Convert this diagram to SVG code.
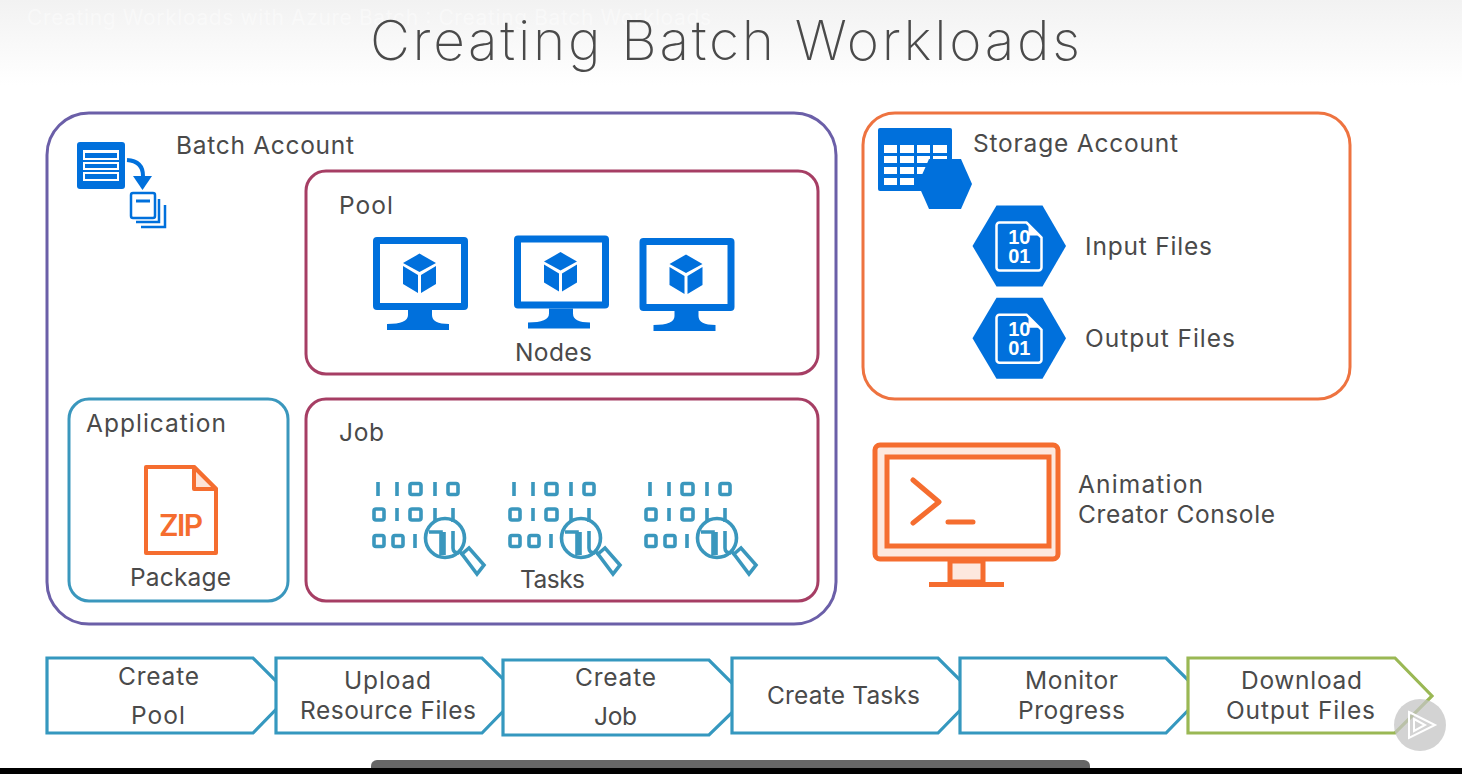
<svg xmlns="http://www.w3.org/2000/svg" xmlns:xlink="http://www.w3.org/1999/xlink" width="1462" height="774" viewBox="0 0 1462 774">
<style>
text{font-family:"Inter","Open Sans","Liberation Sans",sans-serif;fill:#4a4a4a;font-size:24.5px}
.box{fill:#fff;stroke-width:3}
.step{fill:#fff;stroke:#3598bf;stroke-width:3.2;stroke-linejoin:miter}
.az{fill:#0070dc}
.bin{fill:none;stroke:#3a97bd;stroke-width:3.6}
.or{stroke:#f56d2f;stroke-width:5}
.bit{font-family:"Liberation Sans",sans-serif;font-weight:700;font-size:20px;fill:#fff;text-anchor:middle}
</style>
<defs>
<linearGradient id="fade" x1="0" y1="0" x2="0" y2="1"><stop offset="0" stop-color="#f2f2f2"/><stop offset="1" stop-color="#fff"/></linearGradient>
<g id="vm">
<path class="az" fill-rule="evenodd" d="M4 0H91a4 4 0 0 1 4 4V69a4 4 0 0 1-4 4H4a4 4 0 0 1-4-4V4a4 4 0 0 1 4-4ZM7 7V66H88V7Z"/>
<path class="az" d="M35 73H59V78Q59 87 76 87V93H14V87Q35 87 35 78Z"/>
<path class="az" d="M46.5 16.6 63 26 46.5 35 30 26ZM30 29 45 38V56L30 47ZM48 38 63 29V47L48 56Z"/>
</g>
<g id="hexdoc">
<path class="az" d="M24 0H70L93.500 40.500 70 81H24L0 40.500Z"/>
<path d="M27 17H54L69 32V62a3 3 0 0 1-3 3H27a3 3 0 0 1-3-3V20a3 3 0 0 1 3-3Z" fill="none" stroke="#fff" stroke-width="2.500"/>
<path d="M56 19V30H67Z" fill="#fff"/>
<text class="bit" x="46.800" y="38">10</text>
<text class="bit" x="46.800" y="57">01</text>
</g>
<g id="task">
<path class="bin" d="M378 482V496M397 482V496M435 482V496M397 508V521M435 508V522M453 508V522M415 534V548"/>
<rect class="bin" x="410" y="483.500" width="11" height="11" rx="2"/>
<rect class="bin" x="448" y="483.500" width="10" height="11" rx="2"/>
<rect class="bin" x="374" y="509" width="10" height="11" rx="2"/>
<rect class="bin" x="410" y="509" width="11" height="11" rx="2"/>
<rect class="bin" x="374" y="535.500" width="10" height="11" rx="2"/>
<rect class="bin" x="393" y="535.500" width="10" height="11" rx="2"/>
<circle class="bin" cx="445" cy="538" r="19.500"/>
<path class="bin" d="M429 532H441V555M444 532V555M453 531V548Q453 553 459 553"/>
<path class="bin" d="M459 551 463 555"/>
<path class="bin" d="M462 554 469 548 484 565 477 574Z"/>
</g>
</defs>
<rect width="1462" height="774" fill="#fff"/>
<rect width="1462" height="85" fill="url(#fade)"/>
<text x="27" y="25" textLength="684" style="fill:#fff;font-size:21px;opacity:.4">Creating Workloads with Azure Batch : Creating Batch Workloads</text>
<text id="title" x="370" y="60" textLength="710" style="font-size:55px;font-weight:200">Creating Batch Workloads</text>

<g id="batch-account">
<rect class="box" x="47" y="113" width="789" height="511" rx="42" stroke="#6b5fa8"/>
<text x="176" y="154" textLength="178">Batch Account</text>
<rect class="az" x="77" y="142" width="48" height="47" rx="3"/>
<path fill="#fff" d="M83 150H119V160H83ZM83 162H119V170H83ZM83 172H119V181H83Z"/>
<path class="az" d="M85 153H117V158H85ZM85 164H117V168H85ZM85 174H117V179H85Z"/>
<path d="M127 160Q143 161 143 176" fill="none" stroke="#0070dc" stroke-width="4"/>
<path class="az" d="M133 176H152L142.500 190Z"/>
<rect x="131" y="193" width="24" height="25" rx="2" fill="#fff" stroke="#0070dc" stroke-width="2.500"/>
<path d="M136 201H150" stroke="#0070dc" stroke-width="3"/>
<path d="M159 199V222H136M165 205V227H141" fill="none" stroke="#0070dc" stroke-width="2.500"/>
</g>
<g id="pool">
<rect class="box" x="306" y="171" width="512" height="203" rx="20" stroke="#a63e64"/>
<text x="339" y="214" textLength="54">Pool</text>
<use href="#vm" x="373" y="237"/>
<use href="#vm" x="514" y="235.500"/>
<use href="#vm" x="639.500" y="238"/>
<text x="515" y="361" textLength="77">Nodes</text>
</g>
<g id="application">
<rect class="box" x="69" y="399" width="219" height="202" rx="20" stroke="#3a97bd"/>
<text x="86" y="432" textLength="140">Application</text>
<path d="M146 467H194L216 489V553H146Z" fill="#fff" stroke="#f56d2f" stroke-width="4" stroke-linejoin="round"/>
<path d="M194 467V489H216Z" fill="#fde3d8" stroke="#f56d2f" stroke-width="4" stroke-linejoin="round"/>
<text x="159" y="536" textLength="44" style="font-size:30px;font-weight:600;fill:#f56d2f">ZIP</text>
<text x="130" y="586" textLength="101">Package</text>
</g>
<g id="job">
<rect class="box" x="306" y="399" width="512" height="202" rx="20" stroke="#a63e64"/>
<text x="339" y="441" textLength="45">Job</text>
<use href="#task"/>
<use href="#task" x="136"/>
<use href="#task" x="272"/>
<text x="520" y="588" textLength="65">Tasks</text>
</g>
<g id="storage-account">
<rect class="box" x="863" y="113" width="487" height="286" rx="32" stroke="#ee7340"/>
<text x="973" y="152" textLength="205">Storage Account</text>
<rect class="az" x="878" y="128" width="74" height="63" rx="2"/>
<path fill="#fff" d="M884 145h13v8h-13zM900 145h14v8h-14zM917 145h13v8h-13zM933 145h14v8h-14zM884 156h13v7h-13zM900 156h14v7h-14zM917 156h13v7h-13zM933 156h14v7h-14zM884 167h13v7h-13zM900 167h14v7h-14zM917 167h13v7h-13zM884 178h13v7h-13zM900 178h14v7h-14z"/>
<path class="az" d="M929 159H961L972 184 961 209H929L918 184Z"/>
<use href="#hexdoc" x="972.500" y="205.500"/>
<text x="1085" y="255" textLength="127">Input Files</text>
<use href="#hexdoc" x="972.500" y="297.700"/>
<text x="1085" y="347" textLength="150">Output Files</text>
</g>
<g id="animation-console">
<rect x="875" y="445" width="183" height="114" rx="5" fill="#fde8de" class="or"/>
<rect x="887" y="457" width="162" height="89" fill="#fff" class="or"/>
<path d="M950 561H983V582H950Z" fill="#fde8de" class="or"/>
<path d="M929 584.500H1004" fill="none" class="or"/>
<path d="M913 480 939 502 913 523M948 522H973" fill="none" stroke-linecap="round" stroke-linejoin="round" class="or"/>
<text x="1078" y="493" textLength="125">Animation</text>
<text x="1078" y="523" textLength="197">Creator Console</text>
</g>
<g id="steps">
<g id="step-create-pool"><path class="step" d="M47 658H253L290 695 253 733H47Z"/><text x="118" y="685" textLength="81">Create</text><text x="131" y="724" textLength="54">Pool</text></g>
<g id="step-upload"><path class="step" d="M276 658H482L519 695 482 733H276Z"/><text x="344" y="689" textLength="87">Upload</text><text x="300" y="719" textLength="176">Resource Files</text></g>
<g id="step-create-job"><path class="step" d="M503 660H709L747 698 709 735H503Z"/><text x="575" y="686" textLength="81">Create</text><text x="594" y="725" textLength="43">Job</text></g>
<g id="step-create-tasks"><path class="step" d="M732 658H938L975 695 938 733H732Z"/><text x="767" y="704" textLength="153">Create Tasks</text></g>
<g id="step-monitor"><path class="step" d="M960 658H1166L1203 695 1166 733H960Z"/><text x="1025" y="689" textLength="93">Monitor</text><text x="1018" y="719" textLength="107">Progress</text></g>
<g id="step-download"><path class="step" style="stroke:#9ab854" d="M1188 658H1395L1432 696 1395 733H1188Z"/><text x="1241" y="689" textLength="121">Download</text><text x="1226" y="719" textLength="149">Output Files</text></g>
</g>
<g id="player">
<circle cx="1420" cy="725" r="26" fill="#c4c4c4" fill-opacity=".75"/>
<path d="M1409 712 1435 725 1409 738ZM1414 719 1425 725 1414 731Z" fill="none" stroke="#fff" stroke-width="2"/>
<rect x="371" y="760" width="719" height="14" rx="6" fill="#666"/>
<rect y="768" width="1462" height="6" fill="#000"/>
</g>
</svg>
